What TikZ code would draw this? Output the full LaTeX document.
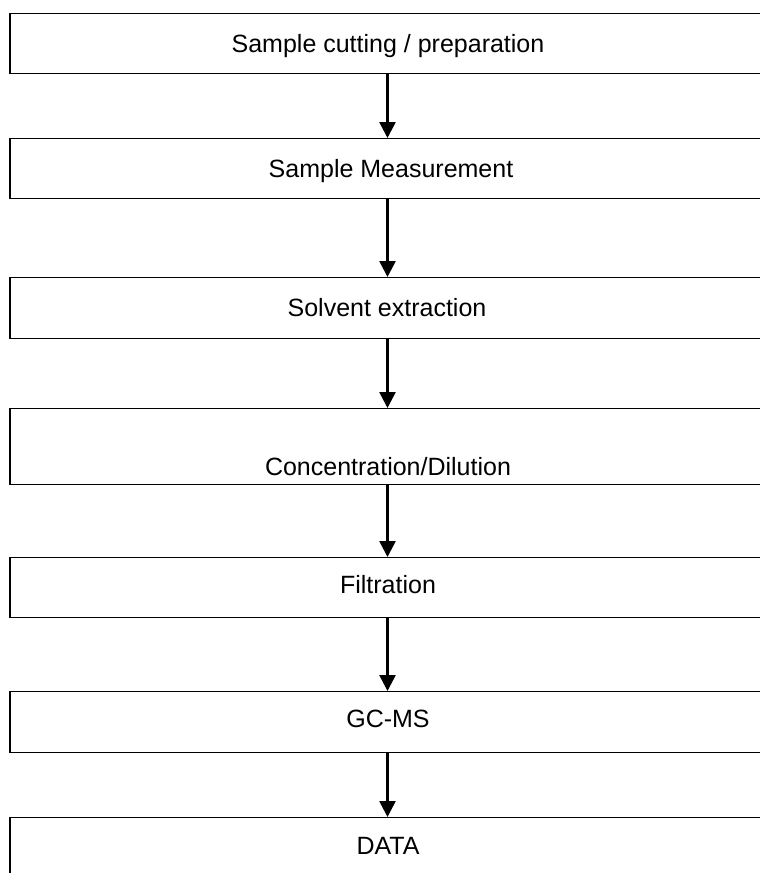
\documentclass[tikz,border=0pt]{standalone}
\usepackage{fontspec}
\setmainfont{Liberation Sans}
\usetikzlibrary{arrows.meta}
\begin{document}
\begin{tikzpicture}[x=1pt,y=-1pt,
  stepbox/.style={draw=black,line width=1.4pt,rectangle,inner sep=0pt,minimum width=755pt,anchor=north},
  lbl/.style={inner sep=0pt,text height=18pt,text depth=0pt,font=\fontsize{25}{30}\selectfont},
  flow/.style={line width=2.6pt,-{Triangle[width=16pt,length=16pt]}}]
\useasboundingbox[fill=white] (0,0) rectangle (760,873);
\node[stepbox,minimum height=60pt] (b1) at (387.5,13) {};
\node[stepbox,minimum height=60pt] (b2) at (387.5,138) {};
\node[stepbox,minimum height=61pt] (b3) at (387.5,277) {};
\node[stepbox,minimum height=76pt] (b4) at (387.5,408) {};
\node[stepbox,minimum height=60pt] (b5) at (387.5,557) {};
\node[stepbox,minimum height=61pt] (b6) at (387.5,691) {};
\node[stepbox,minimum height=90pt] (b7) at (387.5,817) {};
\node[lbl] (t1) at (388,43) {Sample cutting / preparation};
\node[lbl] (t2) at (391,168) {Sample Measurement};
\node[lbl] (t3) at (387,307) {Solvent extraction};
\node[lbl] (t4) at (388,466) {Concentration/Dilution};
\node[lbl] (t5) at (388,584) {Filtration};
\node[lbl] (t6) at (388,718) {GC-MS};
\node[lbl] (t7) at (388,845) {DATA};
\draw[flow] (b1.south) -- (b2.north);
\draw[flow] (b2.south) -- (b3.north);
\draw[flow] (b3.south) -- (b4.north);
\draw[flow] (b4.south) -- (b5.north);
\draw[flow] (b5.south) -- (b6.north);
\draw[flow] (b6.south) -- (b7.north);
\end{tikzpicture}
\end{document}
